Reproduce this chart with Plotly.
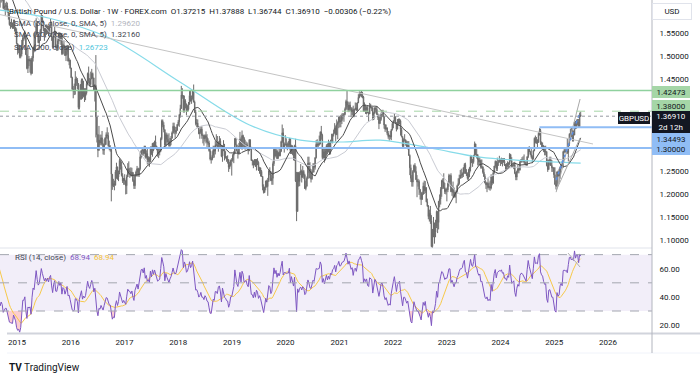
import numpy as np
import pandas as pd
import plotly.graph_objects as go

# ---------------- data (GBPUSD weekly) ----------------
# closes before the visible window (Sep 2013 - Aug 2014), used only to warm up SMA / RSI
pre_close = [1.5678, 1.5870, 1.6020, 1.6190, 1.6140, 1.5960, 1.6160, 1.6210,
             1.5950, 1.6000, 1.6140, 1.6220, 1.6370, 1.6420, 1.6320, 1.6400, 1.6460,
             1.6400, 1.6440, 1.6430, 1.6570, 1.6440, 1.6310, 1.6670, 1.6680, 1.6750,
             1.6680, 1.6620, 1.6480, 1.6620, 1.6580, 1.6750, 1.6800, 1.6800,
             1.6890, 1.6850, 1.6820, 1.6800, 1.6740, 1.6810, 1.6960, 1.7020, 1.7010,
             1.7140, 1.7110, 1.7090, 1.6980, 1.6830, 1.6820, 1.6690, 1.6600, 1.6590]

week_start = "2014-09-01"

close = [
    # 2014
    1.6380, 1.6260, 1.6310, 1.6250, 1.6040, 1.6080, 1.6090, 1.6090, 1.5990, 1.5860, 1.5680, 1.5660, 1.5640,
    1.5630, 1.5710, 1.5620, 1.5540,
    # 2015
    1.5270, 1.5140, 1.5150, 1.4990, 1.5040, 1.5240, 1.5390, 1.5390, 1.5440, 1.5030, 1.4730, 1.4930, 1.4890,
    1.4910, 1.4620, 1.4960, 1.5190, 1.5140, 1.5460, 1.5730, 1.5480, 1.5290, 1.5340, 1.5560, 1.5880, 1.5740,
    1.5600, 1.5510, 1.5600, 1.5510, 1.5610, 1.5500, 1.5640, 1.5700, 1.5410, 1.5190, 1.5430, 1.5540, 1.5190,
    1.5180, 1.5330, 1.5470, 1.5350, 1.5430, 1.5050, 1.5240, 1.5200, 1.5010, 1.5100, 1.5220, 1.4890, 1.4910,
    # 2016
    1.4740, 1.4530, 1.4280, 1.4230, 1.4240, 1.4500, 1.4480, 1.4400, 1.3880, 1.4220, 1.4370, 1.4470, 1.4120,
    1.4210, 1.4130, 1.4200, 1.4400, 1.4620, 1.4450, 1.4380, 1.4500, 1.4620, 1.4520, 1.4260, 1.4360, 1.3680,
    1.3290, 1.2950, 1.3170, 1.3110, 1.3220, 1.3080, 1.2950, 1.3070, 1.3220, 1.3290, 1.3270, 1.3050, 1.2980,
    1.2970, 1.2430, 1.2180, 1.2230, 1.2190, 1.2480, 1.2590, 1.2370, 1.2470, 1.2730, 1.2600, 1.2400, 1.2280,
    1.2340,
    # 2017
    1.2280, 1.2180, 1.2370, 1.2550, 1.2490, 1.2480, 1.2410, 1.2470, 1.2290, 1.2180, 1.2400, 1.2480, 1.2550,
    1.2420, 1.2550, 1.2810, 1.2940, 1.2960, 1.2880, 1.3030, 1.2800, 1.2880, 1.2740, 1.2780, 1.2720, 1.3020,
    1.2890, 1.3100, 1.3000, 1.3130, 1.3040, 1.3010, 1.2880, 1.2900, 1.2930, 1.3200, 1.3590, 1.3500, 1.3400,
    1.3060, 1.3290, 1.3190, 1.3130, 1.3050, 1.3150, 1.3210, 1.3330, 1.3470, 1.3380, 1.3340, 1.3380, 1.3510,
    # 2018
    1.3570, 1.3720, 1.3860, 1.4150, 1.4130, 1.3820, 1.4020, 1.3960, 1.3800, 1.3840, 1.3950, 1.4140, 1.4020,
    1.4090, 1.4240, 1.4000, 1.3780, 1.3530, 1.3540, 1.3460, 1.3310, 1.3340, 1.3410, 1.3270, 1.3270, 1.3200,
    1.3270, 1.3230, 1.3130, 1.3110, 1.2940, 1.2760, 1.2750, 1.2840, 1.2960, 1.2930, 1.3070, 1.3070, 1.3030,
    1.3130, 1.3150, 1.3040, 1.2820, 1.3050, 1.2970, 1.2830, 1.2810, 1.2750, 1.2740, 1.2580, 1.2630, 1.2730,
    # 2019
    1.2730, 1.2840, 1.2880, 1.3200, 1.3070, 1.2940, 1.2890, 1.3040, 1.3190, 1.3000, 1.3270, 1.3210, 1.3030,
    1.3050, 1.3070, 1.2980, 1.2940, 1.3180, 1.3010, 1.2730, 1.2720, 1.2630, 1.2740, 1.2600, 1.2740, 1.2690,
    1.2520, 1.2570, 1.2490, 1.2380, 1.2160, 1.2030, 1.2140, 1.2280, 1.2160, 1.2290, 1.2500, 1.2470, 1.2290,
    1.2340, 1.2660, 1.2970, 1.2830, 1.2940, 1.2770, 1.2900, 1.2830, 1.2930, 1.3140, 1.3330, 1.3000, 1.3080,
    # 2020
    1.3080, 1.3060, 1.3070, 1.3070, 1.3200, 1.2890, 1.3050, 1.2960, 1.2820, 1.3050, 1.2280, 1.1620, 1.2460,
    1.2270, 1.2450, 1.2500, 1.2360, 1.2490, 1.2410, 1.2120, 1.2170, 1.2340, 1.2670, 1.2550, 1.2350, 1.2330,
    1.2480, 1.2620, 1.2580, 1.2790, 1.3080, 1.3060, 1.3080, 1.3090, 1.3350, 1.3280, 1.2790, 1.2920, 1.2750,
    1.2940, 1.3050, 1.2910, 1.3040, 1.2950, 1.3150, 1.3120, 1.3290, 1.3320, 1.3440, 1.3290, 1.3510, 1.3550,
    # 2021
    1.3670, 1.3570, 1.3590, 1.3690, 1.3710, 1.3730, 1.3840, 1.4010, 1.3930, 1.3830, 1.3930, 1.3860, 1.3790,
    1.3830, 1.3700, 1.3840, 1.3870, 1.3820, 1.3980, 1.4100, 1.4150, 1.4210, 1.4160, 1.4110, 1.3800, 1.3880,
    1.3830, 1.3880, 1.3760, 1.3740, 1.3900, 1.3880, 1.3870, 1.3620, 1.3760, 1.3870, 1.3840, 1.3730, 1.3670,
    1.3530, 1.3620, 1.3740, 1.3760, 1.3680, 1.3500, 1.3410, 1.3440, 1.3320, 1.3250, 1.3270, 1.3240, 1.3400,
    1.3530,
    # 2022
    1.3590, 1.3680, 1.3550, 1.3410, 1.3530, 1.3560, 1.3590, 1.3400, 1.3250, 1.3040, 1.3180, 1.3180, 1.3110,
    1.3030, 1.3060, 1.2840, 1.2570, 1.2340, 1.2260, 1.2490, 1.2620, 1.2490, 1.2310, 1.2260, 1.2270, 1.2100,
    1.2030, 1.1880, 1.2000, 1.2170, 1.2070, 1.2140, 1.1830, 1.1740, 1.1510, 1.1580, 1.1420, 1.0860, 1.1170,
    1.1090, 1.1170, 1.1300, 1.1620, 1.1380, 1.1840, 1.1890, 1.2100, 1.2290, 1.2260, 1.2140, 1.2050, 1.2100,
    # 2023
    1.2090, 1.2230, 1.2400, 1.2400, 1.2050, 1.2120, 1.2030, 1.1940, 1.2040, 1.2040, 1.2180, 1.2230, 1.2340,
    1.2410, 1.2410, 1.2440, 1.2570, 1.2640, 1.2450, 1.2440, 1.2340, 1.2450, 1.2570, 1.2820, 1.2720, 1.2700,
    1.2840, 1.3090, 1.2860, 1.2850, 1.2750, 1.2700, 1.2730, 1.2580, 1.2590, 1.2470, 1.2380, 1.2240, 1.2200,
    1.2230, 1.2140, 1.2160, 1.2130, 1.2380, 1.2240, 1.2460, 1.2610, 1.2710, 1.2550, 1.2680, 1.2700, 1.2730,
    # 2024
    1.2720, 1.2750, 1.2700, 1.2710, 1.2630, 1.2630, 1.2600, 1.2670, 1.2650, 1.2860, 1.2730, 1.2600, 1.2620,
    1.2640, 1.2450, 1.2370, 1.2490, 1.2550, 1.2520, 1.2700, 1.2740, 1.2740, 1.2720, 1.2690, 1.2650, 1.2640,
    1.2810, 1.2990, 1.2920, 1.2860, 1.2800, 1.2760, 1.2940, 1.3210, 1.3120, 1.3130, 1.3120, 1.3320, 1.3380,
    1.3120, 1.3070, 1.3050, 1.2960, 1.2910, 1.2920, 1.2620, 1.2530, 1.2730, 1.2740, 1.2620, 1.2570, 1.2570,
    # 2025
    1.2420, 1.2210, 1.2170, 1.2480, 1.2390, 1.2410, 1.2580, 1.2630, 1.2580, 1.2920, 1.2940, 1.2920, 1.2940,
    1.2900, 1.3090, 1.3300, 1.3310, 1.3270, 1.3300, 1.3280, 1.3560, 1.3460, 1.3570, 1.3570, 1.3460, 1.37215,
    1.36910,
]

high = [
    # 2014
    1.6650, 1.6380, 1.6520, 1.6390, 1.6240, 1.6230, 1.6150, 1.6180, 1.6160, 1.6030, 1.5930, 1.5740, 1.5810,
    1.5730, 1.5790, 1.5790, 1.5630,
    # 2015
    1.5600, 1.5260, 1.5250, 1.5240, 1.5170, 1.5350, 1.5420, 1.5490, 1.5550, 1.5450, 1.5160, 1.5160, 1.5000,
    1.4950, 1.4950, 1.5000, 1.5200, 1.5500, 1.5520, 1.5820, 1.5730, 1.5490, 1.5450, 1.5590, 1.5930, 1.5880,
    1.5770, 1.5610, 1.5670, 1.5690, 1.5670, 1.5690, 1.5670, 1.5820, 1.5750, 1.5420, 1.5450, 1.5660, 1.5530,
    1.5250, 1.5380, 1.5510, 1.5510, 1.5460, 1.5480, 1.5270, 1.5340, 1.5230, 1.5150, 1.5240, 1.5240, 1.4960,
    # 2016
    1.4920, 1.4740, 1.4550, 1.4350, 1.4400, 1.4670, 1.4550, 1.4520, 1.4410, 1.4250, 1.4390, 1.4510, 1.4510,
    1.4460, 1.4300, 1.4300, 1.4440, 1.4640, 1.4770, 1.4520, 1.4660, 1.4720, 1.4640, 1.4530, 1.4390, 1.5020,
    1.3620, 1.3300, 1.3480, 1.3290, 1.3290, 1.3370, 1.3100, 1.3190, 1.3230, 1.3340, 1.3450, 1.3340, 1.3160,
    1.3060, 1.2950, 1.2340, 1.2330, 1.2290, 1.2520, 1.2680, 1.2570, 1.2510, 1.2770, 1.2710, 1.2700, 1.2450,
    1.2340,
    # 2017
    1.2430, 1.2300, 1.2420, 1.2670, 1.2710, 1.2570, 1.2580, 1.2570, 1.2440, 1.2310, 1.2430, 1.2510, 1.2610,
    1.2570, 1.2570, 1.2900, 1.2950, 1.2990, 1.2960, 1.3050, 1.3050, 1.2950, 1.2980, 1.2820, 1.2810, 1.3030,
    1.3030, 1.3110, 1.3120, 1.3160, 1.3270, 1.3050, 1.2950, 1.2980, 1.2990, 1.3230, 1.3620, 1.3620, 1.3560,
    1.3400, 1.3340, 1.3330, 1.3290, 1.3320, 1.3220, 1.3260, 1.3360, 1.3550, 1.3550, 1.3460, 1.3460, 1.3520,
    # 2018
    1.3610, 1.3740, 1.3940, 1.4350, 1.4300, 1.4150, 1.4140, 1.4060, 1.3950, 1.3930, 1.4000, 1.4240, 1.4250,
    1.4140, 1.4260, 1.4380, 1.4030, 1.3830, 1.3630, 1.3620, 1.3480, 1.3400, 1.3470, 1.3470, 1.3310, 1.3280,
    1.3300, 1.3360, 1.3300, 1.3210, 1.3160, 1.2980, 1.2800, 1.2930, 1.3050, 1.3040, 1.3150, 1.3300, 1.3260,
    1.3140, 1.3260, 1.3210, 1.3050, 1.3050, 1.3170, 1.3090, 1.2930, 1.2820, 1.2840, 1.2760, 1.2700, 1.2750,
    # 2019
    1.2780, 1.2870, 1.2930, 1.3220, 1.3220, 1.3070, 1.2930, 1.3110, 1.3350, 1.3230, 1.3380, 1.3290, 1.3240,
    1.3180, 1.3140, 1.3120, 1.3010, 1.3190, 1.3170, 1.3010, 1.2750, 1.2720, 1.2760, 1.2760, 1.2760, 1.2780,
    1.2710, 1.2590, 1.2560, 1.2520, 1.2390, 1.2210, 1.2160, 1.2290, 1.2310, 1.2350, 1.2530, 1.2580, 1.2500,
    1.2410, 1.2710, 1.2990, 1.3010, 1.2980, 1.2970, 1.2920, 1.2990, 1.2980, 1.3160, 1.3510, 1.3430, 1.3120,
    # 2020
    1.3280, 1.3210, 1.3120, 1.3150, 1.3220, 1.3210, 1.3070, 1.3050, 1.3000, 1.3070, 1.3200, 1.2480, 1.2480,
    1.2480, 1.2490, 1.2650, 1.2530, 1.2610, 1.2520, 1.2440, 1.2290, 1.2380, 1.2810, 1.2810, 1.2690, 1.2540,
    1.2510, 1.2670, 1.2670, 1.2800, 1.3170, 1.3190, 1.3140, 1.3270, 1.3360, 1.3480, 1.3310, 1.3010, 1.2980,
    1.2980, 1.3080, 1.3100, 1.3180, 1.3140, 1.3180, 1.3310, 1.3310, 1.3400, 1.3540, 1.3490, 1.3620, 1.3580,
    # 2021
    1.3670, 1.3700, 1.3720, 1.3750, 1.3760, 1.3760, 1.3880, 1.4050, 1.4240, 1.4010, 1.3990, 1.4010, 1.3890,
    1.3880, 1.3920, 1.3850, 1.3990, 1.3980, 1.4000, 1.4170, 1.4230, 1.4220, 1.4250, 1.4220, 1.4130, 1.3990,
    1.3940, 1.3910, 1.3910, 1.3790, 1.3980, 1.3960, 1.3890, 1.3890, 1.3790, 1.3890, 1.3890, 1.3910, 1.3750,
    1.3730, 1.3670, 1.3770, 1.3830, 1.3830, 1.3700, 1.3520, 1.3510, 1.3440, 1.3370, 1.3290, 1.3370, 1.3410,
    1.3560,
    # 2022
    1.3600, 1.3750, 1.3680, 1.3560, 1.3630, 1.3640, 1.3640, 1.3620, 1.3440, 1.3250, 1.3210, 1.3300, 1.3180,
    1.3160, 1.3150, 1.3150, 1.2860, 1.2640, 1.2410, 1.2520, 1.2640, 1.2670, 1.2600, 1.2410, 1.2330, 1.2310,
    1.2080, 1.2000, 1.2050, 1.2250, 1.2290, 1.2280, 1.2140, 1.1900, 1.1760, 1.1660, 1.1740, 1.1540, 1.1240,
    1.1500, 1.1380, 1.1440, 1.1640, 1.1620, 1.1850, 1.1990, 1.2150, 1.2310, 1.2340, 1.2450, 1.2240, 1.2120,
    # 2023
    1.2140, 1.2250, 1.2440, 1.2420, 1.2450, 1.2190, 1.2270, 1.2140, 1.2050, 1.2070, 1.2200, 1.2340, 1.2420,
    1.2520, 1.2550, 1.2470, 1.2580, 1.2670, 1.2680, 1.2540, 1.2470, 1.2540, 1.2590, 1.2850, 1.2840, 1.2760,
    1.2850, 1.3140, 1.3090, 1.2990, 1.2870, 1.2820, 1.2800, 1.2750, 1.2750, 1.2600, 1.2550, 1.2430, 1.2270,
    1.2260, 1.2340, 1.2250, 1.2290, 1.2430, 1.2380, 1.2510, 1.2610, 1.2730, 1.2690, 1.2790, 1.2740, 1.2830,
    # 2024
    1.2770, 1.2790, 1.2780, 1.2780, 1.2780, 1.2650, 1.2670, 1.2710, 1.2690, 1.2890, 1.2860, 1.2800, 1.2650,
    1.2680, 1.2700, 1.2480, 1.2510, 1.2630, 1.2580, 1.2710, 1.2760, 1.2800, 1.2820, 1.2860, 1.2740, 1.2690,
    1.2820, 1.3000, 1.3040, 1.2940, 1.3000, 1.2840, 1.2950, 1.3230, 1.3270, 1.3240, 1.3190, 1.3340, 1.3430,
    1.3420, 1.3140, 1.3120, 1.3060, 1.3040, 1.3050, 1.2930, 1.2750, 1.2750, 1.2810, 1.2810, 1.2740, 1.2590,
    # 2025
    1.2580, 1.2580, 1.2290, 1.2490, 1.2510, 1.2550, 1.2600, 1.2660, 1.2720, 1.2940, 1.2990, 1.3010, 1.2960,
    1.3210, 1.3110, 1.3320, 1.3420, 1.3440, 1.3400, 1.3380, 1.3560, 1.3590, 1.3620, 1.3630, 1.3630, 1.3770,
    1.37888,
]

low = [
    # 2014
    1.6330, 1.6050, 1.6160, 1.6190, 1.6020, 1.6000, 1.5880, 1.5990, 1.5940, 1.5790, 1.5660, 1.5590, 1.5620,
    1.5590, 1.5590, 1.5530, 1.5480,
    # 2015
    1.5250, 1.5030, 1.5060, 1.4950, 1.4950, 1.4990, 1.5170, 1.5330, 1.5360, 1.5020, 1.4710, 1.4630, 1.4780,
    1.4640, 1.4580, 1.4620, 1.4880, 1.5080, 1.5110, 1.5440, 1.5450, 1.5280, 1.5170, 1.5330, 1.5490, 1.5650,
    1.5540, 1.5330, 1.5420, 1.5460, 1.5480, 1.5430, 1.5490, 1.5610, 1.5330, 1.5160, 1.5200, 1.5400, 1.5160,
    1.5110, 1.5110, 1.5250, 1.5320, 1.5240, 1.5020, 1.5030, 1.5170, 1.5000, 1.4890, 1.5030, 1.4880, 1.4800,
    # 2016
    1.4720, 1.4520, 1.4250, 1.4080, 1.4150, 1.4160, 1.4350, 1.4280, 1.3840, 1.3840, 1.4050, 1.4050, 1.4070,
    1.4100, 1.4000, 1.4040, 1.4160, 1.4360, 1.4400, 1.4340, 1.4330, 1.4560, 1.4350, 1.4250, 1.4010, 1.3230,
    1.3120, 1.2800, 1.2940, 1.3060, 1.3060, 1.3050, 1.2860, 1.2850, 1.3060, 1.3070, 1.3200, 1.3030, 1.2950,
    1.2920, 1.1840, 1.2090, 1.2150, 1.2080, 1.2190, 1.2330, 1.2310, 1.2280, 1.2430, 1.2530, 1.2380, 1.2240,
    1.2200,
    # 2017
    1.2200, 1.1990, 1.2000, 1.2370, 1.2420, 1.2350, 1.2380, 1.2380, 1.2260, 1.2110, 1.2110, 1.2380, 1.2380,
    1.2380, 1.2370, 1.2510, 1.2770, 1.2840, 1.2830, 1.2880, 1.2770, 1.2770, 1.2640, 1.2640, 1.2590, 1.2690,
    1.2850, 1.2810, 1.2930, 1.2970, 1.3020, 1.2950, 1.2810, 1.2780, 1.2840, 1.2910, 1.3170, 1.3450, 1.3340,
    1.3030, 1.3030, 1.3120, 1.3080, 1.3030, 1.3030, 1.3060, 1.3210, 1.3320, 1.3300, 1.3220, 1.3300, 1.3380,
    # 2018
    1.3480, 1.3460, 1.3660, 1.3850, 1.4070, 1.3770, 1.3770, 1.3860, 1.3710, 1.3790, 1.3810, 1.3940, 1.4010,
    1.3960, 1.4050, 1.3990, 1.3760, 1.3490, 1.3450, 1.3440, 1.3300, 1.3200, 1.3310, 1.3200, 1.3100, 1.3050,
    1.3140, 1.3100, 1.3010, 1.3070, 1.2920, 1.2730, 1.2660, 1.2730, 1.2780, 1.2790, 1.2860, 1.3030, 1.2990,
    1.2920, 1.3020, 1.3000, 1.2800, 1.2700, 1.2930, 1.2730, 1.2770, 1.2700, 1.2660, 1.2480, 1.2540, 1.2600,
    # 2019
    1.2400, 1.2700, 1.2670, 1.2880, 1.3060, 1.2920, 1.2770, 1.2850, 1.3030, 1.3000, 1.2960, 1.3000, 1.2980,
    1.2960, 1.3010, 1.2970, 1.2860, 1.2940, 1.2960, 1.2720, 1.2620, 1.2560, 1.2630, 1.2590, 1.2510, 1.2630,
    1.2500, 1.2440, 1.2380, 1.2370, 1.2080, 1.2010, 1.2030, 1.2080, 1.2140, 1.1960, 1.2260, 1.2410, 1.2280,
    1.2200, 1.2200, 1.2610, 1.2790, 1.2810, 1.2760, 1.2770, 1.2820, 1.2820, 1.2910, 1.3110, 1.2990, 1.2900,
    # 2020
    1.3050, 1.3010, 1.2950, 1.3000, 1.2970, 1.2870, 1.2870, 1.2850, 1.2730, 1.2720, 1.2260, 1.1410, 1.1640,
    1.2160, 1.2170, 1.2410, 1.2250, 1.2400, 1.2330, 1.2110, 1.2080, 1.2160, 1.2330, 1.2460, 1.2340, 1.2250,
    1.2310, 1.2460, 1.2470, 1.2530, 1.2770, 1.2980, 1.2980, 1.3050, 1.3080, 1.3180, 1.2760, 1.2760, 1.2680,
    1.2730, 1.2830, 1.2860, 1.2910, 1.2850, 1.2860, 1.3110, 1.3100, 1.3250, 1.3320, 1.3140, 1.3280, 1.3190,
    # 2021
    1.3430, 1.3450, 1.3450, 1.3520, 1.3620, 1.3570, 1.3710, 1.3820, 1.3880, 1.3780, 1.3780, 1.3800, 1.3670,
    1.3720, 1.3670, 1.3670, 1.3820, 1.3800, 1.3810, 1.3990, 1.4080, 1.4120, 1.4100, 1.4080, 1.3790, 1.3790,
    1.3740, 1.3730, 1.3760, 1.3570, 1.3750, 1.3860, 1.3800, 1.3600, 1.3670, 1.3740, 1.3780, 1.3720, 1.3610,
    1.3410, 1.3530, 1.3590, 1.3720, 1.3670, 1.3420, 1.3350, 1.3400, 1.3280, 1.3200, 1.3160, 1.3190, 1.3170,
    1.3380,
    # 2022
    1.3430, 1.3570, 1.3520, 1.3360, 1.3410, 1.3500, 1.3510, 1.3270, 1.3230, 1.3000, 1.2990, 1.3140, 1.3050,
    1.3000, 1.2970, 1.2830, 1.2410, 1.2260, 1.2160, 1.2160, 1.2470, 1.2460, 1.2310, 1.1930, 1.2160, 1.1980,
    1.1880, 1.1760, 1.1890, 1.1980, 1.2000, 1.2020, 1.1820, 1.1720, 1.1450, 1.1400, 1.1350, 1.0840, 1.0350,
    1.1060, 1.0920, 1.1060, 1.1260, 1.1150, 1.1230, 1.1710, 1.1770, 1.1940, 1.2110, 1.2110, 1.2000, 1.1990,
    # 2023
    1.1840, 1.2040, 1.2160, 1.2260, 1.2040, 1.1960, 1.1920, 1.1920, 1.1920, 1.1800, 1.2010, 1.2180, 1.2200,
    1.2360, 1.2340, 1.2350, 1.2370, 1.2440, 1.2440, 1.2390, 1.2310, 1.2310, 1.2370, 1.2490, 1.2670, 1.2590,
    1.2660, 1.2810, 1.2840, 1.2770, 1.2620, 1.2620, 1.2620, 1.2550, 1.2550, 1.2440, 1.2370, 1.2230, 1.2110,
    1.2040, 1.2120, 1.2090, 1.2070, 1.2100, 1.2190, 1.2220, 1.2440, 1.2570, 1.2500, 1.2500, 1.2610, 1.2680,
    # 2024
    1.2610, 1.2650, 1.2600, 1.2680, 1.2610, 1.2520, 1.2540, 1.2570, 1.2580, 1.2620, 1.2710, 1.2580, 1.2590,
    1.2540, 1.2430, 1.2300, 1.2300, 1.2450, 1.2450, 1.2510, 1.2680, 1.2680, 1.2700, 1.2660, 1.2650, 1.2610,
    1.2610, 1.2780, 1.2910, 1.2840, 1.2770, 1.2670, 1.2750, 1.2930, 1.3100, 1.3090, 1.3000, 1.3120, 1.3270,
    1.3070, 1.3010, 1.2970, 1.2910, 1.2840, 1.2840, 1.2600, 1.2480, 1.2540, 1.2620, 1.2610, 1.2480, 1.2480,
    # 2025
    1.2350, 1.2200, 1.2100, 1.2160, 1.2380, 1.2250, 1.2330, 1.2530, 1.2560, 1.2580, 1.2880, 1.2900, 1.2880,
    1.2870, 1.2710, 1.3040, 1.3240, 1.3230, 1.3140, 1.3140, 1.3280, 1.3410, 1.3420, 1.3490, 1.3440, 1.3460,
    1.36744,
]

# 200-week SMA (its history starts before the visible window)
sma200_dates = ["2014-09-01", "2015-08-10", "2016-09-20", "2018-01-15", "2019-05-01", "2020-04-10",
                "2021-01-05", "2021-10-05", "2022-09-10", "2023-08-15", "2024-07-20", "2025-06-30"]
sma200_vals = [1.600, 1.582, 1.539, 1.443, 1.350, 1.317, 1.313, 1.317, 1.300, 1.280, 1.272, 1.2672]

years = list(range(2015, 2027))
price_ticks = [1.10, 1.15, 1.20, 1.25, 1.45, 1.50, 1.55]
rsi_ticks = [20, 40, 60]

level_green = 1.42473
level_green_dash = 1.38000
level_last = 1.36910
level_blue_1 = 1.34493
level_blue_1_start = "2024-09-23"
level_blue_2 = 1.30000

trend_dates, trend_prices = ["2014-09-07", "2025-09-22"], [1.590, 1.3087]
wedge_up_dates, wedge_up_prices = ["2025-01-14", "2025-06-26"], [1.2040, 1.4065]
wedge_lo_dates, wedge_lo_prices = ["2025-01-16", "2025-06-26"], [1.2087, 1.3217]
path_dates, path_prices = ["2025-01-14", "2025-06-26"], [1.2304, 1.3783]
rsi_div_dates, rsi_div_vals = ["2025-04-05", "2025-06-26"], [71.1, 61.2]

# ---------------- derived series ----------------
n = min(len(close), len(high), len(low))
dates = pd.date_range(week_start, periods=n, freq="W-MON")
c = np.array(close[:n])
o = np.array([pre_close[-1]] + close[:n - 1])
h = np.maximum.reduce([np.array(high[:n]), o, c])
l = np.minimum.reduce([np.array(low[:n]), o, c])

all_close = pd.Series(pre_close + list(c))
k = len(pre_close)
sma20 = all_close.rolling(20).mean().values[k:]
sma50 = all_close.rolling(50).mean().values[k:]
d = all_close.diff()
ag = d.clip(lower=0).ewm(alpha=1 / 14, adjust=False).mean()
al = (-d.clip(upper=0)).ewm(alpha=1 / 14, adjust=False).mean()
rsi_s = 100 - 100 / (1 + ag / al)
rsi_ma = rsi_s.rolling(14).mean().values[k:]
rsi = rsi_s.values[k:]

# ---------------- figure ----------------
W, H = 700, 380
PW, PH = 652, 333          # plot area in px (margins: r=48, b=47)
SPLIT = 248                # px where price pane ends
dom_split = (PH - SPLIT) / PH

def px(X):
    return X / PW

def py(Y):
    return (PH - Y) / PH

FONT = "Roboto, 'Noto Sans', sans-serif"
TXT = "#131722"
CANDLE = "#6c6c6c"

fig = go.Figure()
fig.add_trace(go.Candlestick(
    x=dates, open=o, high=h, low=l, close=c, xaxis="x", yaxis="y",
    increasing=dict(line=dict(color=CANDLE, width=1), fillcolor=CANDLE),
    decreasing=dict(line=dict(color=CANDLE, width=1), fillcolor=CANDLE),
    whiskerwidth=0, hoverinfo="skip", showlegend=False))
fig.add_trace(go.Scatter(x=dates, y=sma50, mode="lines", line=dict(color="#c9cbd3", width=1),
                         yaxis="y", hoverinfo="skip", showlegend=False))
fig.add_trace(go.Scatter(x=pd.to_datetime(sma200_dates), y=sma200_vals, mode="lines",
                         line=dict(color="#86dbe9", width=1.2, shape="spline"),
                         yaxis="y", hoverinfo="skip", showlegend=False))
fig.add_trace(go.Scatter(x=dates, y=sma20, mode="lines", line=dict(color="#4a4a4a", width=1),
                         yaxis="y", hoverinfo="skip", showlegend=False))
# drawings
fig.add_trace(go.Scatter(x=pd.to_datetime(trend_dates), y=trend_prices, mode="lines",
                         line=dict(color="#c4c4c4", width=1), hoverinfo="skip", showlegend=False))
fig.add_trace(go.Scatter(x=pd.to_datetime(wedge_up_dates), y=wedge_up_prices, mode="lines",
                         line=dict(color="#a8a8a8", width=1), hoverinfo="skip", showlegend=False))
fig.add_trace(go.Scatter(x=pd.to_datetime(wedge_lo_dates), y=wedge_lo_prices, mode="lines",
                         line=dict(color="#a8a8a8", width=1), hoverinfo="skip", showlegend=False))
fig.add_trace(go.Scatter(x=pd.to_datetime(path_dates), y=path_prices, mode="lines",
                         line=dict(color="#5b8fe6", width=1.5, dash="dot"), hoverinfo="skip", showlegend=False))

# RSI pane
fig.add_trace(go.Scatter(x=dates, y=np.full(n, 30.0), mode="lines", line=dict(width=0),
                         yaxis="y2", hoverinfo="skip", showlegend=False))
fig.add_trace(go.Scatter(x=dates, y=np.minimum(rsi, 30), mode="lines", line=dict(width=0),
                         fill="tonexty", fillcolor="rgba(242,54,69,0.25)",
                         yaxis="y2", hoverinfo="skip", showlegend=False))
fig.add_trace(go.Scatter(x=dates, y=np.full(n, 70.0), mode="lines", line=dict(width=0),
                         yaxis="y2", hoverinfo="skip", showlegend=False))
fig.add_trace(go.Scatter(x=dates, y=np.maximum(rsi, 70), mode="lines", line=dict(width=0),
                         fill="tonexty", fillcolor="rgba(8,153,129,0.18)",
                         yaxis="y2", hoverinfo="skip", showlegend=False))
fig.add_trace(go.Scatter(x=dates, y=rsi_ma, mode="lines", line=dict(color="#f7c94a", width=1),
                         yaxis="y2", hoverinfo="skip", showlegend=False))
fig.add_trace(go.Scatter(x=dates, y=rsi, mode="lines", line=dict(color="#7e57c2", width=1),
                         yaxis="y2", hoverinfo="skip", showlegend=False))
fig.add_trace(go.Scatter(x=pd.to_datetime(rsi_div_dates), y=rsi_div_vals, mode="lines",
                         line=dict(color="#b0b0b0", width=1), yaxis="y2", hoverinfo="skip", showlegend=False))

shapes = []
# RSI band and levels
shapes.append(dict(type="rect", xref="paper", yref="y2", x0=0, x1=1, y0=30, y1=70,
                   fillcolor="rgba(126,87,194,0.10)", line=dict(width=0), layer="below"))
for lv in (70, 50, 30):
    shapes.append(dict(type="line", xref="paper", yref="y2", x0=0, x1=1, y0=lv, y1=lv,
                       line=dict(color="#a3a6af", width=1, dash="dash")))
# price levels
shapes.append(dict(type="line", xref="paper", yref="y", x0=0, x1=1, y0=level_green, y1=level_green,
                   line=dict(color="#8fd19e", width=1.5)))
shapes.append(dict(type="line", xref="paper", yref="y", x0=0, x1=1, y0=level_green_dash, y1=level_green_dash,
                   line=dict(color="#a5d6a7", width=1, dash="dash")))
shapes.append(dict(type="line", xref="paper", yref="y", x0=0, x1=1, y0=level_last, y1=level_last,
                   line=dict(color="#9598a1", width=1, dash="dot")))
shapes.append(dict(type="line", xref="x", yref="y", x0=level_blue_1_start, x1="2026-10-28",
                   y0=level_blue_1, y1=level_blue_1, line=dict(color="#90bdf5", width=2)))
shapes.append(dict(type="line", xref="paper", yref="y", x0=0, x1=1, y0=level_blue_2, y1=level_blue_2,
                   line=dict(color="#90bdf5", width=2)))
# frame lines
shapes.append(dict(type="line", xref="paper", yref="paper", x0=0, x1=1, y0=dom_split, y1=dom_split,
                   line=dict(color="#e0e3eb", width=1)))
shapes.append(dict(type="line", xref="paper", yref="paper", x0=px(7), x1=px(700), y0=py(333.5), y1=py(333.5),
                   line=dict(color="#d1d4dc", width=2)))
shapes.append(dict(type="line", xref="paper", yref="paper", x0=px(7), x1=px(700), y0=py(353), y1=py(353),
                   line=dict(color="#f0f3fa", width=1)))
shapes.append(dict(type="line", xref="paper", yref="paper", x0=1, x1=1, y0=1, y1=py(353),
                   line=dict(color="#b2b5be", width=1)))

ann = []

def text(X, Y, t, size=8, color=TXT, xanchor="left"):
    ann.append(dict(xref="paper", yref="paper", x=px(X), y=py(Y), text=t, showarrow=False,
                    xanchor=xanchor, yanchor="middle", font=dict(family=FONT, size=size, color=color)))

def box(Y, t, bg, fg=TXT, h=10, X=652, xanchor="left", w=36, border=None):
    ann.append(dict(xref="paper", yref="paper", x=px(X), y=py(Y), text=t, showarrow=False,
                    xanchor=xanchor, yanchor="middle", bgcolor=bg, width=w, height=h, borderpad=1,
                    bordercolor=border if border else bg, borderwidth=1 if border else 0,
                    font=dict(family=FONT, size=8, color=fg)))

text(7, 11, "British Pound / U.S. Dollar · 1W · FOREX.com &nbsp;O1.37215 &nbsp;H1.37888 &nbsp;L1.36744 "
            "&nbsp;C1.36910 &nbsp;−0.00306 (−0.22%)")
text(12, 23, "SMA (50, close, 0, SMA, 5) &nbsp;<span style='color:#b2b5be'>1.29620</span>", color="#434651")
text(12, 35, "SMA (20, close, 0, SMA, 5) &nbsp;<span style='color:#434651'>1.32160</span>", color="#434651")
text(12, 48, "SMA (200, close) &nbsp;<span style='color:#4fc6dc'>1.26723</span>", color="#434651")
text(13, 257, "RSI (14, close) &nbsp;<span style='color:#7e57c2'>68.94</span> "
              "&nbsp;<span style='color:#f2c230'>68.94</span>", color="#434651")
text(7, 367, "<b>TV</b> TradingView", size=10, color="#131722")

box(11.5, "USD", "#ffffff", border="#e0e3eb", h=13)
box(92, "1.42473", "#a5d6a7")
box(105.5, "1.38000", "#a5d6a7")
box(122, "1.36910<br>2d 12h", "#131722", fg="#ffffff", h=20)
box(117.5, "GBPUSD", "#131722", fg="#ffffff", X=650, xanchor="right", w=30)
box(138.5, "1.34493", "#90bdf5")
box(149, "1.30000", "#90bdf5")

fig.update_layout(
    width=W, height=H, margin=dict(l=0, r=W - PW, t=0, b=H - PH),
    paper_bgcolor="white", plot_bgcolor="white",
    font=dict(family=FONT, size=8, color=TXT),
    showlegend=False, hovermode=False,
    shapes=shapes, annotations=ann,
    xaxis=dict(domain=[0, 1], anchor="y2", type="date",
               range=["2014-09-07", "2026-10-28"], rangeslider=dict(visible=False),
               showgrid=False, zeroline=False, showline=False,
               tickvals=[f"{y}-01-01" for y in years], ticktext=[str(y) for y in years],
               ticks="outside", ticklen=1, tickcolor="rgba(0,0,0,0)",
               tickfont=dict(family=FONT, size=8, color=TXT)),
    yaxis=dict(domain=[dom_split, 1], side="right", anchor="x", range=[1.0826, 1.6217],
               showgrid=False, zeroline=False, showline=False,
               tickvals=price_ticks, ticktext=[f"{v:.5f}" for v in price_ticks],
               ticks="outside", ticklen=5, tickcolor="rgba(0,0,0,0)",
               tickfont=dict(family=FONT, size=8, color=TXT)),
    yaxis2=dict(domain=[0, dom_split], side="right", anchor="x", range=[14.4, 74.7],
                showgrid=False, zeroline=False, showline=False,
                tickvals=rsi_ticks, ticktext=[f"{v:.2f}" for v in rsi_ticks],
                ticks="outside", ticklen=5, tickcolor="rgba(0,0,0,0)",
                tickfont=dict(family=FONT, size=8, color=TXT)),
)

fig.write_html("out.html", config={"displayModeBar": False},
               post_script="document.body.style.margin='0';document.body.style.overflow='hidden';")
